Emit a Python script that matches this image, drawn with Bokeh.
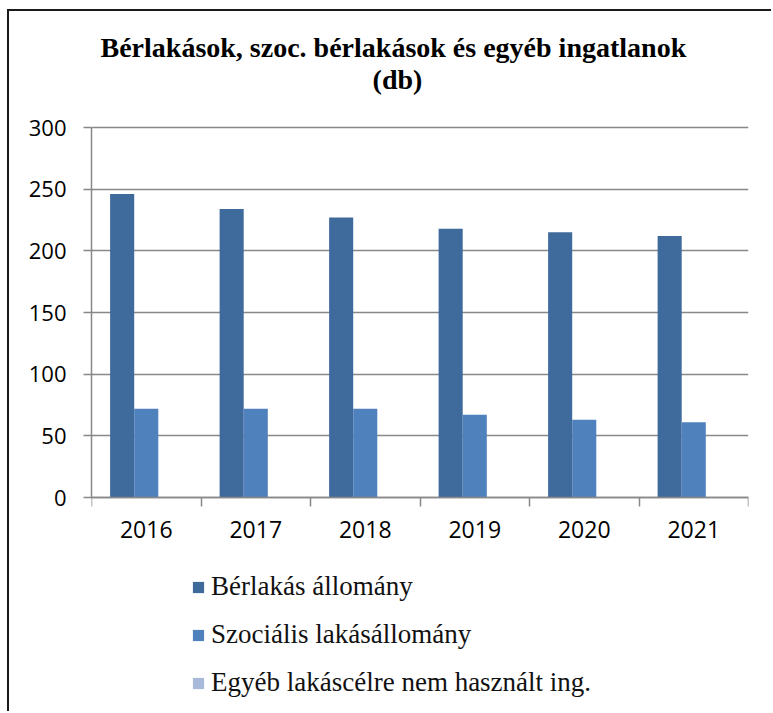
from bokeh.plotting import figure
from bokeh.models import FixedTicker, Legend, LegendItem, Label, ColumnDataSource, Range1d
from bokeh.embed import file_html
from bokeh.resources import INLINE

# ---- data ----
years = ["2016", "2017", "2018", "2019", "2020", "2021"]
berlakas = [246, 234, 227, 218, 215, 212]
szocialis = [72, 72, 72, 67, 63, 61]
egyeb = [0, 0, 0, 0, 0, 0]
series_names = ["Bérlakás állomány", "Szociális lakásállomány",
                "Egyéb lakáscélre nem használt ing."]
y_ticks = [0, 50, 100, 150, 200, 250, 300]
title_line1 = "Bérlakások, szoc. bérlakások és egyéb ingatlanok"
title_line2 = "(db)"

# ---- styles / layout ----
colors = ["#3F6A9C", "#4F81BD", "#A8B9D9"]
grid_color = "#888888"
bar_w = 0.22
offsets = [-bar_w, 0.0, bar_w]

W, H = 764, 702            # canvas size
left_pad = 82              # room for the y tick labels
right_pad = 25
plot_px = 370              # pixel height of the 0..300 value band
above_px = 116             # pixels above the value band (title area)
below_px = H - above_px - plot_px   # pixels below (x labels + legend area)
y_max = y_ticks[-1]
px_per_unit = plot_px / y_max

n = len(years)
centers = [i + 0.5 for i in range(n)]

p = figure(width=W, height=H, output_backend="svg", toolbar_location=None,
           x_range=Range1d(0, n),
           y_range=Range1d(-below_px / px_per_unit, y_max + above_px / px_per_unit),
           title=None,
           min_border_left=left_pad, min_border_right=right_pad,
           min_border_top=0, min_border_bottom=0)
p.outline_line_color = None
p.background_fill_color = "white"
p.border_fill_color = "white"
p.styles = {"margin-left": "7px", "margin-top": "9px",
            "border-left": "2px solid #1a1a1a", "border-top": "2px solid #1a1a1a"}

items = []
for vals, col, name, off in zip([berlakas, szocialis, egyeb], colors, series_names, offsets):
    src = ColumnDataSource(dict(x=[c + off for c in centers], top=vals))
    r = p.vbar(x="x", top="top", width=bar_w, source=src, fill_color=col, line_color=None)
    items.append(LegendItem(label=name, renderers=[r]))

# grid
p.xgrid.visible = False
p.ygrid.ticker = FixedTicker(ticks=y_ticks)
p.ygrid.grid_line_color = grid_color
p.ygrid.grid_line_width = 1.5
p.ygrid.level = "underlay"

# y axis
p.yaxis.ticker = FixedTicker(ticks=y_ticks)
p.yaxis.bounds = (y_ticks[0], y_ticks[-1])
p.yaxis.axis_line_color = grid_color
p.yaxis.axis_line_width = 1.5
p.yaxis.major_tick_line_color = grid_color
p.yaxis.major_tick_line_width = 1.5
p.yaxis.major_tick_out = 8
p.yaxis.major_tick_in = 0
p.yaxis.minor_tick_line_color = None
p.yaxis.major_label_text_font = "Open Sans"
p.yaxis.major_label_text_font_size = "22px"
p.yaxis.major_label_text_color = "black"
p.yaxis.major_label_standoff = 17

# x axis at value 0 (labels at centres, tick marks at category boundaries)
p.xaxis.fixed_location = 0
p.xaxis.ticker = FixedTicker(ticks=centers, minor_ticks=list(range(n + 1)))
p.xaxis.major_label_overrides = {c: y for c, y in zip(centers, years)}
p.xaxis.axis_line_color = grid_color
p.xaxis.axis_line_width = 1.5
p.xaxis.major_tick_line_color = None
p.xaxis.major_tick_out = 9
p.xaxis.major_tick_in = 0
p.xaxis.minor_tick_line_color = grid_color
p.xaxis.minor_tick_line_width = 1.5
p.xaxis.minor_tick_out = 9
p.xaxis.minor_tick_in = 0
p.xaxis.major_label_text_font = "Open Sans"
p.xaxis.major_label_text_font_size = "23px"
p.xaxis.major_label_text_color = "black"
p.xaxis.major_label_standoff = 14

# title
p.add_layout(Label(x=9, y=H - 36, x_units="screen", y_units="screen", text=title_line1,
                   text_align="left", text_baseline="alphabetic",
                   text_font="Liberation Serif", text_font_style="bold",
                   text_font_size="28px", text_color="black"))
p.add_layout(Label(x=306, y=H - 68, x_units="screen", y_units="screen", text=title_line2,
                   text_align="center", text_baseline="alphabetic",
                   text_font="Liberation Serif", text_font_style="bold",
                   text_font_size="28px", text_color="black"))

legend = Legend(items=items, location=(100, 15), orientation="vertical",
                border_line_color=None, background_fill_alpha=0,
                label_text_font="Liberation Serif", label_text_font_size="27px",
                label_text_color="#111111",
                glyph_width=14, glyph_height=14, spacing=17, padding=0, margin=0,
                label_standoff=6)
p.add_layout(legend)

open("out.html", "w").write(file_html(p, INLINE))
